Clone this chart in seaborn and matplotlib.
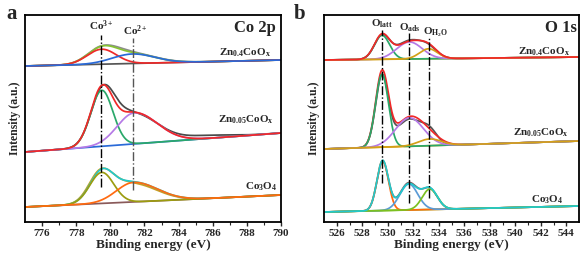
import numpy as np
import pandas as pd
import matplotlib
matplotlib.use("Agg")
import matplotlib.pyplot as plt
import seaborn as sns

# ---------------- data ----------------
# peak lists: [centre eV, height a.u., sigma_left, sigma_right]
# baselines: [value at left limit, value at right limit]

# Co 2p panel
co_xlim = [775, 790]
co_ticks = [776, 778, 780, 782, 784, 786, 788, 790]
co_names = ["Zn$_{0.4}$CoO$_x$", "Zn$_{0.05}$CoO$_x$", "Co$_3$O$_4$"]

co_base_04 = [156, 162]
co_raw_04 = [[779.5, 15.5, 0.85, 0.95], [781.3, 9.5, 1.2, 1.35]]
co_fit_04 = [[779.5, 15.0, 0.85, 0.85], [781.3, 9.5, 1.2, 1.3]]

co_base_005 = [70, 89]
co_raw_005 = [[779.55, 55.0, 0.68, 0.72], [781.35, 30.0, 1.0, 1.4], [785.5, 3.0, 1.5, 1.5]]
co_fit_005 = [[779.5, 56.0, 0.65, 0.65], [781.4, 31.0, 1.0, 1.35]]

co_base_3o4 = [15, 27]
co_raw_3o4 = [[779.45, 31.5, 0.7, 0.75], [781.3, 18.0, 1.0, 1.4]]
co_fit_3o4 = [[779.5, 31.0, 0.7, 0.7], [781.35, 19.5, 1.0, 1.4]]

co_marks = [779.45, 781.35]
co_mark_labels = ["Co$^{3+}$", "Co$^{2+}$"]

# O 1s panel
o_xlim = [525, 545]
o_ticks = [526, 528, 530, 532, 534, 536, 538, 540, 542, 544]
o_names = ["Zn$_{0.4}$CoO$_x$", "Zn$_{0.05}$CoO$_x$", "Co$_3$O$_4$"]

o_base_04 = [162, 165]
o_raw_04 = [[529.55, 23.0, 0.6, 0.6], [531.7, 18.0, 1.0, 1.0], [533.2, 9.0, 0.7, 0.7]]
o_fit_04 = [[529.55, 24.0, 0.6, 0.6], [531.7, 17.0, 1.0, 1.0], [533.2, 10.0, 0.7, 0.7]]

o_base_005 = [73, 81]
o_raw_005 = [[529.55, 70.0, 0.5, 0.5], [531.7, 27.0, 1.0, 1.0], [533.3, 12.0, 0.6, 0.6]]
o_fit_005 = [[529.55, 73.0, 0.5, 0.5], [531.7, 28.5, 1.1, 1.1], [533.3, 6.7, 0.9, 0.9]]

o_base_3o4 = [10, 16]
o_raw_3o4 = [[529.6, 49.0, 0.45, 0.45], [531.65, 27.0, 0.7, 0.7], [533.3, 20.0, 0.6, 0.6]]
o_fit_3o4 = [[529.6, 50.0, 0.45, 0.45], [531.65, 26.0, 0.7, 0.7], [533.3, 20.5, 0.6, 0.6]]

o_marks = [529.55, 531.7, 533.25]
o_mark_labels = ["O$_{latt}$", "O$_{ads}$", "O$_{H_2O}$"]

# ---------------- styling ----------------
sns.set_theme(style="ticks")
plt.rcParams["font.family"] = ["Liberation Serif", "DejaVu Serif"]
plt.rcParams["font.weight"] = "bold"
plt.rcParams["mathtext.fontset"] = "custom"
plt.rcParams["mathtext.rm"] = "Liberation Serif:bold"
plt.rcParams["mathtext.it"] = "Liberation Serif:bold"
plt.rcParams["mathtext.bf"] = "Liberation Serif:bold"
plt.rcParams["mathtext.default"] = "rm"


def split_gauss(x, c, h, sl, sr):
    s = np.where(x < c, sl, sr)
    return h * np.exp(-(x - c) ** 2 / (2 * s ** 2))


def baseline(x, b, lim):
    return b[0] + (b[1] - b[0]) * (x - lim[0]) / (lim[1] - lim[0])


def draw(ax, x, y, color, lw=1.25):
    sns.lineplot(x=x, y=y, color=color, lw=lw, ax=ax, sort=False, estimator=None)


def spectrum(ax, lim, base, raw, fit, raw_c, env_c, comp_cs, base_c, env_first=True):
    x = np.linspace(lim[0], lim[1], 800)
    bl = baseline(x, base, lim)
    raw_y = bl + sum(split_gauss(x, *p) for p in raw)
    comps = [split_gauss(x, *p) for p in fit]
    env = bl + sum(comps)
    draw(ax, x, raw_y, raw_c)
    if env_first:
        draw(ax, x, env, env_c)
    draw(ax, x, bl, base_c)
    for cy, cc in zip(comps, comp_cs):
        draw(ax, x, bl + cy, cc)
    if not env_first:
        draw(ax, x, env, env_c)


fig = plt.figure(figsize=(5.81, 2.57), dpi=100)
axL = fig.add_axes([25 / 581, 1 - 222 / 257, 256 / 581, 207 / 257])
axR = fig.add_axes([324 / 581, 1 - 222 / 257, 255 / 581, 207 / 257])

# ---- Co 2p ----
spectrum(axL, co_xlim, co_base_04, co_raw_04, co_fit_04, "#8c8c8c", "#86c232",
         ["#ee2a2a", "#2a6ad8"], "#555555")
spectrum(axL, co_xlim, co_base_005, co_raw_005, co_fit_005, "#4a4a4a", "#f02828",
         ["#2aa86a", "#b57ae6"], "#2a6ad8", env_first=False)
spectrum(axL, co_xlim, co_base_3o4, co_raw_3o4, co_fit_3o4, "#c8a020", "#22c8cc",
         ["#9c9c10", "#ff6a10"], "#8a5a5a")

axL.vlines(co_marks[0], 35, 187, colors="black", linestyles="dashdot", lw=1.0)
axL.vlines(co_marks[1], 32, 184, colors="#555555", linestyles="dashdot", lw=1.0)
axL.text(co_marks[0], 189, co_mark_labels[0], ha="center", va="bottom", fontsize=8)
axL.text(co_marks[1] + 0.1, 184, co_mark_labels[1], ha="center", va="bottom", fontsize=8)
axL.text(789.7, 194, "Co 2p", ha="right", va="center", fontsize=12, fontweight="bold")
axL.text(789.4, 169, co_names[0], ha="right", va="center", fontsize=8)
axL.text(789.6, 102, co_names[1], ha="right", va="center", fontsize=8)
axL.text(789.8, 35, co_names[2], ha="right", va="center", fontsize=8)

# ---- O 1s ----
spectrum(axR, o_xlim, o_base_04, o_raw_04, o_fit_04, "#555555", "#f02828",
         ["#2aa86a", "#b57ae6", "#d4a017"], "#d4a017", env_first=False)
spectrum(axR, o_xlim, o_base_005, o_raw_005, o_fit_005, "#555555", "#f02828",
         ["#2aa86a", "#b57ae6", "#d4a017"], "#d4a017")
spectrum(axR, o_xlim, o_base_3o4, o_raw_3o4, o_fit_3o4, "#7a5a5a", "#22c8cc",
         ["#ff6a10", "#5b9bd5", "#7cc020"], "#7cc020", env_first=False)

axR.vlines(o_marks[0], 39, 192, colors="black", linestyles="dashdot", lw=1.0)
axR.vlines(o_marks[1], 19, 189, colors="black", linestyles="dashdot", lw=1.0)
axR.vlines(o_marks[2], 24, 184, colors="black", linestyles="dashdot", lw=1.0)
axR.text(o_marks[0], 192, o_mark_labels[0], ha="center", va="bottom", fontsize=8)
axR.text(o_marks[1], 188, o_mark_labels[1], ha="center", va="bottom", fontsize=8)
axR.text(o_marks[2] + 0.5, 183, o_mark_labels[2], ha="center", va="bottom", fontsize=8)
axR.text(544.8, 194, "O 1s", ha="right", va="center", fontsize=12, fontweight="bold")
axR.text(544.3, 170, o_names[0], ha="right", va="center", fontsize=8)
axR.text(544.2, 89, o_names[1], ha="right", va="center", fontsize=8)
axR.text(543.8, 22, o_names[2], ha="right", va="center", fontsize=8)

for ax, lim, ticks in [(axL, co_xlim, co_ticks), (axR, o_xlim, o_ticks)]:
    ax.set_xlim(lim)
    ax.set_ylim(0, 207)
    ax.set_xticks(ticks)
    ax.set_xticks([t - 1 for t in ticks if t - 1 > lim[0]], minor=True)
    ax.set_yticks([])
    ax.tick_params(axis="x", which="major", direction="out", length=3, width=1.0,
                   labelsize=8, pad=2)
    ax.tick_params(axis="x", which="minor", direction="out", length=2, width=0.8)
    for lbl in ax.get_xticklabels():
        lbl.set_fontweight("bold")
    for s in ax.spines.values():
        s.set_linewidth(1.3)
        s.set_color("black")
    ax.set_xlabel("Binding energy (eV)", fontsize=9.5, fontweight="bold", labelpad=1)
    ax.set_ylabel("Intensity (a.u.)", fontsize=8.5, fontweight="bold", labelpad=3)

fig.text(6 / 581, 1 - 14 / 257, "a", fontsize=15, fontweight="bold", ha="left", va="center")
fig.text(294 / 581, 1 - 14 / 257, "b", fontsize=15, fontweight="bold", ha="left", va="center")

fig.savefig("out.png", dpi=100)
